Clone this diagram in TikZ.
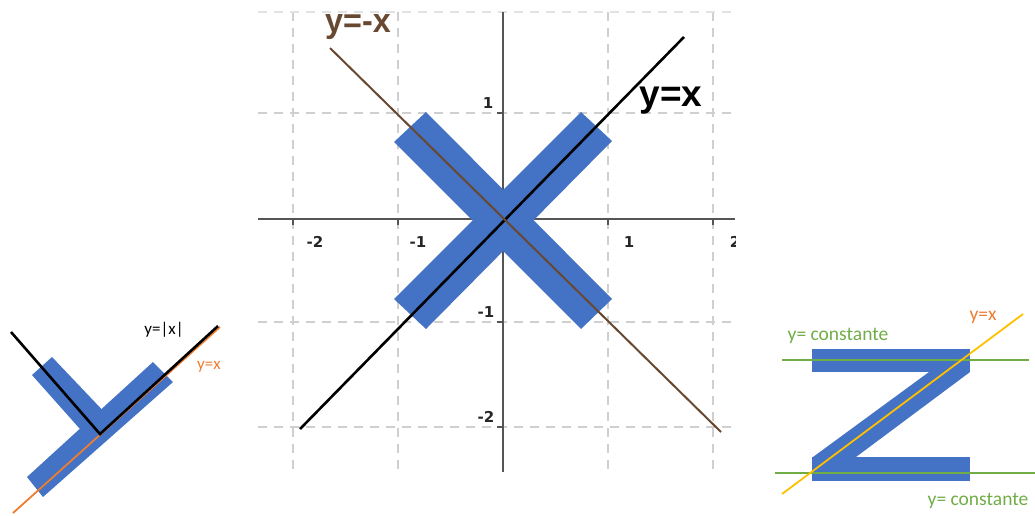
\documentclass[tikz,border=0pt]{standalone}
\usepackage{fontspec}
\setmainfont{Carlito}
\newfontfamily\ticksfont{DejaVu Sans}
\newfontfamily\bigfont{Liberation Sans}
\definecolor{shapeblue}{HTML}{4472C4}
\definecolor{gridgray}{HTML}{CFCFCF}
\definecolor{axisgray}{HTML}{555555}
\definecolor{browny}{RGB}{104,72,48}
\definecolor{offorange}{HTML}{ED7D31}
\definecolor{offgold}{HTML}{FFC000}
\definecolor{offgreen}{HTML}{70AD47}
\begin{document}
\begin{tikzpicture}[x=1pt,y=-1pt,
  gridline/.style={gridgray, line width=1.6pt, dash pattern=on 9pt off 7pt},
  axisline/.style={axisgray, line width=2pt},
  blueshape/.style={fill=shapeblue, draw=none},
  ticklabel/.style={font=\ticksfont\bfseries\fontsize{15}{15}\selectfont, text=black!85, inner sep=0pt},
  biglabel/.style={font=\bigfont\bfseries\fontsize{34}{34}\selectfont, inner sep=0pt},
  smalllabel/.style={font=\fontsize{19.5}{19.5}\selectfont, inner sep=0pt}]
\useasboundingbox (0,0) rectangle (1035,515);
% ---------------- central graph ----------------
\begin{scope}
\clip (255,0) rectangle (735,480);
% grid
\foreach \gx in {293,398,608,713} \draw[gridline] (\gx,12) -- (\gx,472);
\foreach \gy in {113,322,427} \draw[gridline] (258,\gy) -- (735,\gy);
\draw[gridline, gridgray!60] (258,12) -- (735,12);
% axes
\coordinate (xl) at (258,219);
\coordinate (xr) at (735,219);
\coordinate (yt) at (503,12);
\coordinate (yb) at (503,472);
\draw[axisline] (xl) -- (xr);
\draw[axisline] (yt) -- (yb);
% ticks
\foreach \gx in {293,398,608,713} \draw[axisgray, line width=1.5pt] (\gx,219) -- (\gx,225);
\foreach \gy in {113,322,427} \draw[axisgray, line width=1.5pt] (497,\gy) -- (503,\gy);
% tick labels
\node[ticklabel] (tm2) at (315,242) {-2};
\node[ticklabel] (tm1) at (418,242) {-1};
\node[ticklabel] (tp1) at (629,242) {1};
\node[ticklabel] (tp2) at (735,242) {2};
\node[ticklabel] (ty1) at (488,103) {1};
\node[ticklabel] (tym1) at (486,312) {-1};
\node[ticklabel] (tym2) at (486,417) {-2};
\end{scope}
% blue X
\fill[blueshape] (394,142) -- (426,112) -- (612,299) -- (581,329) -- cycle;
\fill[blueshape] (581,112) -- (612,141) -- (426,329) -- (394,299) -- cycle;
% lines
\coordinate (bxa) at (300,429);
\coordinate (bxb) at (684,37);
\coordinate (bra) at (330,48);
\coordinate (brb) at (721,432);
\draw[black, line width=2.6pt] (bxa) -- (bxb);
\draw[browny, line width=2pt] (bra) -- (brb);
\node[biglabel, text=browny, xscale=0.95] (lmx) at (358,27) {y=-x};
\node[biglabel, text=black, font=\bigfont\bfseries\fontsize{37}{37}\selectfont] (lx) at (671,101) {y=x};
% ---------------- left figure (Y) ----------------
\fill[blueshape] (27,477) -- (43,497) -- (173,382) -- (153,362) -- cycle;
\fill[blueshape] (32,375) -- (52,357) -- (110,418) -- (88,438) -- cycle;
\coordinate (loa) at (13,513);
\coordinate (lob) at (220,327);
\coordinate (lka) at (11,332);
\coordinate (lkv) at (100,434);
\coordinate (lkb) at (218,326);
\draw[offorange, line width=1.8pt] (loa) -- (lob);
\draw[black, line width=2.6pt, line join=miter] (lka) -- (lkv) -- (lkb);
\node[smalllabel, text=black, font=\fontsize{17}{17}\selectfont] (labs) at (164,330) {y=|x|};
\node[smalllabel, text=offorange, font=\fontsize{17}{17}\selectfont] (lyx) at (209,367) {y=x};
% ---------------- right figure (Z) ----------------
\fill[blueshape] (813,457) -- (856,457) -- (970,372) -- (929,372) -- cycle;
\fill[blueshape] (812,349) rectangle (970,372);
\fill[blueshape] (812,457) rectangle (970,481);
\coordinate (gta) at (782,360);
\coordinate (gtb) at (1029,360);
\coordinate (gba) at (775,473);
\coordinate (gbb) at (1035,473);
\coordinate (za) at (782,494);
\coordinate (zb) at (1023,314);
\draw[offgreen, line width=1.8pt] (gta) -- (gtb);
\draw[offgreen, line width=1.8pt] (gba) -- (gbb);
\draw[offgold, line width=1.8pt] (za) -- (zb);
\node[smalllabel, text=offgreen] (zct) at (838,336) {y= constante};
\node[smalllabel, text=offgreen] (zcb) at (978,501) {y= constante};
\node[smalllabel, text=offorange] (zyx) at (983,317) {y=x};
\end{tikzpicture}
\end{document}
